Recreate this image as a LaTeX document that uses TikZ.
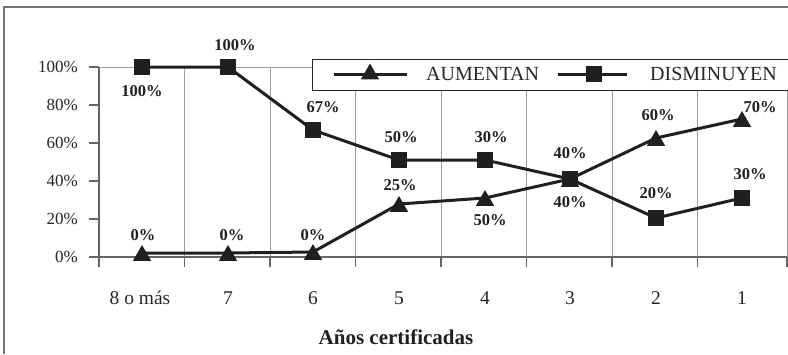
\documentclass[tikz,border=0pt]{standalone}
\usepackage{fontspec}
\setmainfont{Liberation Serif}
\usetikzlibrary{shapes.geometric}
\begin{document}
\begin{tikzpicture}[x=1pt,y=-1pt,
  grid/.style={draw=black!38,line width=1pt},
  axisline/.style={draw=black!60,line width=1.3pt},
  serie/.style={line width=3pt,black!88},
  sq/.style={rectangle,fill=black!88,minimum width=15.5pt,minimum height=16pt,inner sep=0pt},
  tri/.style={regular polygon,regular polygon sides=3,fill=black!88,minimum size=21pt,inner sep=0pt},
  ytick/.style={anchor=east,font=\fontsize{17}{17}\selectfont,text=black!85,inner sep=0pt},
  xlab/.style={font=\fontsize{19.5}{19.5}\selectfont,text=black!85,inner sep=0pt},
  dlab/.style={font=\fontsize{16.5}{16.5}\selectfont\bfseries,text=black!88,inner sep=0pt},
  legtxt/.style={font=\fontsize{20}{20}\selectfont,text=black!85,inner sep=0pt}]
\useasboundingbox (0,0) rectangle (788,354);
% outer frame
\draw[black!55,line width=1.5pt] (4,354) -- (4,7) -- (788,7);
% vertical grid lines
\foreach \x in {184.5,270,355.5,441,526.5,612,697.5}
  \draw[grid] (\x,67) -- (\x,257);
% plot border top and right
\draw[grid] (99,67) -- (787,67) -- (787,257);
% axes
\draw[axisline] (99,67) -- (99,257) -- (787,257);
\foreach \y in {67,105,143,181,219,257}
  \draw[axisline] (89,\y) -- (99,\y);
\foreach \x in {99,184.5,270,355.5,441,526.5,612,697.5,787}
  \draw[axisline] (\x,257) -- (\x,267);
% y tick labels
\node[ytick] (y100) at (78,67) {100\%};
\node[ytick] (y80) at (78,105) {80\%};
\node[ytick] (y60) at (78,143) {60\%};
\node[ytick] (y40) at (78,181) {40\%};
\node[ytick] (y20) at (78,219) {20\%};
\node[ytick] (y0) at (78,257) {0\%};
% x labels
\node[xlab] (x1) at (140,298) {8 o más};
\node[xlab] (x2) at (228,298) {7};
\node[xlab] (x3) at (313,298) {6};
\node[xlab] (x4) at (399,298) {5};
\node[xlab] (x5) at (485,298) {4};
\node[xlab] (x6) at (570,298) {3};
\node[xlab] (x7) at (656,298) {2};
\node[xlab] (x8) at (742,298) {1};
\node[font=\fontsize{21}{21}\selectfont\bfseries,text=black!88,inner sep=0pt] (title) at (396,337) {Años certificadas};
% data coordinates
\coordinate (a1) at (142,253); \coordinate (a2) at (228,253);
\coordinate (a3) at (313,252); \coordinate (a4) at (399,204);
\coordinate (a5) at (485,198); \coordinate (a6) at (570,179);
\coordinate (a7) at (656,138); \coordinate (a8) at (742,119);
\coordinate (d1) at (142,67); \coordinate (d2) at (228,67);
\coordinate (d3) at (313,130); \coordinate (d4) at (399,160);
\coordinate (d5) at (485,160); \coordinate (d6) at (570,179);
\coordinate (d7) at (656,218); \coordinate (d8) at (742,198);
\draw[serie] (a1) -- (a2) -- (a3) -- (a4) -- (a5) -- (a6) -- (a7) -- (a8);
\draw[serie] (d1) -- (d2) -- (d3) -- (d4) -- (d5) -- (d6) -- (d7) -- (d8);
\foreach \i in {1,...,8} {
  \node[tri] (ta\i) at ([yshift=-2.5pt]a\i) {};
  \node[sq] (sd\i) at (d\i) {};
}
% data labels
\node[dlab] (l1) at (142,91) {100\%};
\node[dlab] (l2) at (235,45) {100\%};
\node[dlab] (l3) at (323,107) {67\%};
\node[dlab] (l4) at (401,137) {50\%};
\node[dlab] (l5) at (491,137) {30\%};
\node[dlab] (l6) at (570,153) {40\%};
\node[dlab] (l7) at (658,115) {60\%};
\node[dlab] (l8) at (760,107) {70\%};
\node[dlab] (l9) at (750,174) {30\%};
\node[dlab] (l10) at (656,193) {20\%};
\node[dlab] (l11) at (570,202) {40\%};
\node[dlab] (l12) at (490,220) {50\%};
\node[dlab] (l13) at (400,185) {25\%};
\node[dlab] (l14) at (143,235) {0\%};
\node[dlab] (l15) at (232,235) {0\%};
\node[dlab] (l16) at (313,235) {0\%};
% legend
\draw[fill=white,draw=black!85,line width=1pt] (312,59) rectangle (790,90);
\coordinate (la1) at (334,74); \coordinate (la2) at (407,74);
\coordinate (ld1) at (558,74); \coordinate (ld2) at (627,74);
\draw[serie] (la1) -- (la2);
\draw[serie] (ld1) -- (ld2);
\node[tri] (lt) at (370,74) {};
\node[sq] (ls) at (594,74) {};
\node[legtxt,anchor=west] (lta) at (426,74) {AUMENTAN};
\node[legtxt,anchor=west] (ltd) at (650,74) {DISMINUYEN};
\end{tikzpicture}
\end{document}
